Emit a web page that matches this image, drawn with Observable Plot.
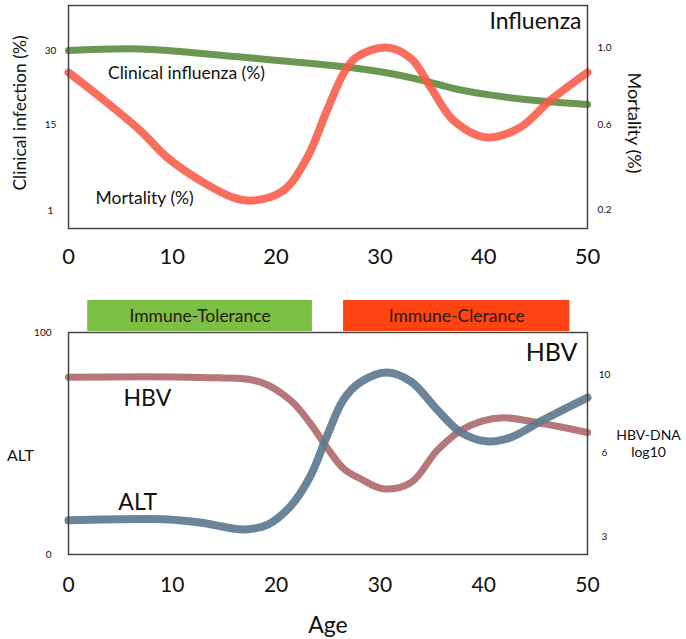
<!DOCTYPE html>
<html><head><meta charset="utf-8">
<script src="https://cdn.jsdelivr.net/npm/d3@7"></script>
<script src="https://cdn.jsdelivr.net/npm/@observablehq/plot@0.6"></script>
<style>
body{margin:0;background:#fff;font-family:Lato,"Open Sans",sans-serif;}
#c{width:686px;}
#c svg{display:block;}
</style></head><body><div id="c"></div>
<script>
// ---- data ----
const xTicks = [0, 10, 20, 30, 40, 50];

// Influenza panel
const clinAge = [0, 6.9, 15.9, 26.5, 30.6, 34.2, 37.1, 40.9, 45.8, 50];
const clinVal = [30, 30.3, 28.8, 26.7, 25.5, 23.9, 22.3, 20.9, 19.7, 19.05];
const mortAge = [0, 3.1, 6.9, 9.5, 12.7, 15.9, 17.8, 20.7, 23, 24.9, 26.5, 27.7, 30.6, 33, 34.9, 37.1, 40.3, 43.5, 46.4, 50];
const mortVal = [0.87, 0.74, 0.572, 0.445, 0.336, 0.256, 0.242, 0.289, 0.445, 0.673, 0.865, 0.948, 1.0, 0.943, 0.792, 0.621, 0.539, 0.586, 0.725, 0.87];
const clinTicks = [1, 15, 30];
const mortTicks = [0.2, 0.6, 1.0];
const fluLabels = [
  {text: "Clinical influenza (%)", age: 3.8, y: 25.3},
  {text: "Mortality (%)", age: 2.6, y: 2.95}
];

// Phase bands
const bandName = ["Immune-Tolerance", "Immune-Clerance"];
const bandStart = [1.85, 26.5];
const bandEnd = [23.5, 48.3];
const bandColor = ["#7cbf45", "#ff4312"];

// HBV panel
const hbvAge = [0, 12.7, 18.5, 21.4, 23.3, 24.9, 26.5, 28.1, 30.3, 33, 35.5, 37.8, 40, 41.9, 45.1, 50];
const hbvDna = [9.86, 9.85, 9.61, 8.67, 7.49, 6.26, 5.43, 5.07, 4.71, 4.93, 6.10, 7.13, 7.64, 7.79, 7.54, 7.03];
const altAge = [0, 9.5, 12.7, 16.9, 19.2, 21.4, 23.3, 24.9, 26.5, 28.1, 30.6, 33, 35.5, 37.8, 40.3, 42.6, 45.8, 50];
const altVal = [15.4, 15.8, 14.4, 11.3, 13.5, 21.8, 35.3, 53.3, 69.8, 77.5, 82.0, 77.9, 65.3, 55.0, 51.0, 52.7, 60.8, 70.7];
const altTicks = [0, 100];
const dnaTicks = [3, 6, 10];
const hbvLabels = [
  {text: "HBV", age: 5.3, y: 70.3},
  {text: "ALT", age: 4.8, y: 23.4}
];

// ---- build ----
const clin = clinAge.map((a, i) => ({age: a, v: clinVal[i]}));
const mort = mortAge.map((a, i) => ({age: a, v: mortVal[i]}));
const hbv = hbvAge.map((a, i) => ({age: a, v: hbvDna[i]}));
const alt = altAge.map((a, i) => ({age: a, v: altVal[i]}));
const bands = bandName.map((n, i) => ({name: n, start: bandStart[i], end: bandEnd[i], color: bandColor[i]}));

// schematic (non-linear) axes mapped into panel units 0–100
const c2u = d3.scaleLinear().domain([1, 15, 30]).range([8.07, 46.64, 79.82]);
const m2u = d3.scaleLinear().domain([0.2, 0.6, 1.0]).range([8.52, 46.64, 81.17]);
const h2a = d3.scaleLinear().domain([3, 6, 10]).range([8.1, 45.9, 81.1]);

const W = 686, ML = 68, MR = 99;
const baseStyle = {fontFamily: "Lato, 'Open Sans', sans-serif", fontSize: "10px", color: "#111", background: "white", overflow: "visible"};
const root = document.getElementById("c");

const flu = Plot.plot({
  width: W, height: 300, marginLeft: ML, marginRight: MR, marginTop: 5, marginBottom: 72,
  style: baseStyle,
  x: {domain: [0, 50]},
  y: {domain: [0, 100]},
  marks: [
    Plot.axisX({ticks: xTicks, tickSize: 0, tickPadding: 20, fontSize: 22, label: null}),
    Plot.axisY(clinTicks, {y: d => c2u(d), anchor: "left", tickSize: 0, tickPadding: 18, textAnchor: "middle", tickFormat: d => String(d), fontSize: 10, label: null}),
    Plot.axisY(mortTicks, {y: d => m2u(d), anchor: "right", tickSize: 0, tickPadding: 17, textAnchor: "middle", tickFormat: d3.format(".1f"), fontSize: 10, label: null}),
    Plot.line(clin, {x: "age", y: d => c2u(d.v), stroke: "#6b9753", strokeWidth: 7, curve: "catmull-rom"}),
    Plot.line(mort, {x: "age", y: d => m2u(d.v), stroke: "#f85a45", strokeOpacity: 0.88, strokeWidth: 8, curve: "catmull-rom"}),
    Plot.text(fluLabels, {x: "age", y: d => c2u(d.y), text: "text", textAnchor: "start", fontSize: 17.5, fill: "#111"}),
    Plot.text(["Influenza"], {frameAnchor: "top-right", lineAnchor: "middle", dx: -6, dy: 16, fontSize: 23, fill: "#111"}),
    Plot.text(["Clinical infection (%)"], {frameAnchor: "left", dx: -48, dy: -4, rotate: -90, lineAnchor: "middle", textAnchor: "middle", fontSize: 17.5, fill: "#111"}),
    Plot.text(["Mortality (%)"], {frameAnchor: "right", dx: 46, dy: 6, rotate: 90, lineAnchor: "middle", textAnchor: "middle", fontSize: 18, fill: "#111"}),
    Plot.frame({stroke: "#444", strokeWidth: 1.5})
  ]
});
root.appendChild(flu);

const band = Plot.plot({
  width: W, height: 31, marginLeft: ML, marginRight: MR, marginTop: 0, marginBottom: 0,
  style: baseStyle,
  x: {domain: [0, 50], axis: null},
  color: {type: "identity"},
  marks: [
    Plot.rect(bands, {x1: "start", x2: "end", fill: "color"}),
    Plot.text(bands, {x: d => (d.start + d.end) / 2, text: "name", frameAnchor: "middle", fontSize: 17.5, fill: "#2a1a0e"})
  ]
});
root.appendChild(band);

const hb = Plot.plot({
  width: W, height: 308, marginLeft: ML, marginRight: MR, marginTop: 1, marginBottom: 85,
  style: baseStyle,
  x: {domain: [0, 50]},
  y: {domain: [0, 100]},
  marks: [
    Plot.axisX({ticks: xTicks, tickSize: 0, tickPadding: 23, fontSize: 21, label: null}),
    Plot.axisY({ticks: altTicks, anchor: "left", tickSize: 0, tickPadding: 17, fontSize: 10, label: null}),
    Plot.axisY(dnaTicks, {y: d => h2a(d), anchor: "right", tickSize: 0, tickPadding: 17, textAnchor: "middle", tickFormat: d => String(d), fontSize: 10, label: null}),
    Plot.line(hbv, {x: "age", y: d => h2a(d.v), stroke: "#b6777b", strokeWidth: 7, curve: "catmull-rom"}),
    Plot.line(alt, {x: "age", y: "v", stroke: "#5f7a8f", strokeOpacity: 0.92, strokeWidth: 8, curve: "catmull-rom"}),
    Plot.text(hbvLabels, {x: "age", y: "y", text: "text", textAnchor: "start", fontSize: 23, fill: "#111"}),
    Plot.text(["HBV"], {frameAnchor: "top-right", lineAnchor: "middle", dx: -10, dy: 20, fontSize: 25, fill: "#111"}),
    Plot.text(["ALT"], {frameAnchor: "left", dx: -48, dy: 12, lineAnchor: "middle", textAnchor: "middle", fontSize: 16, fill: "#111"}),
    Plot.text(["HBV-DNA\nlog10"], {frameAnchor: "right", dx: 61, dy: 0, lineAnchor: "middle", textAnchor: "middle", lineHeight: 1.2, fontSize: 14, fill: "#111"}),
    Plot.text(["Age"], {frameAnchor: "bottom", dy: 71, lineAnchor: "middle", textAnchor: "middle", fontSize: 23, fill: "#111"}),
    Plot.frame({stroke: "#444", strokeWidth: 1.5})
  ]
});
root.appendChild(hb);
</script></body></html>
